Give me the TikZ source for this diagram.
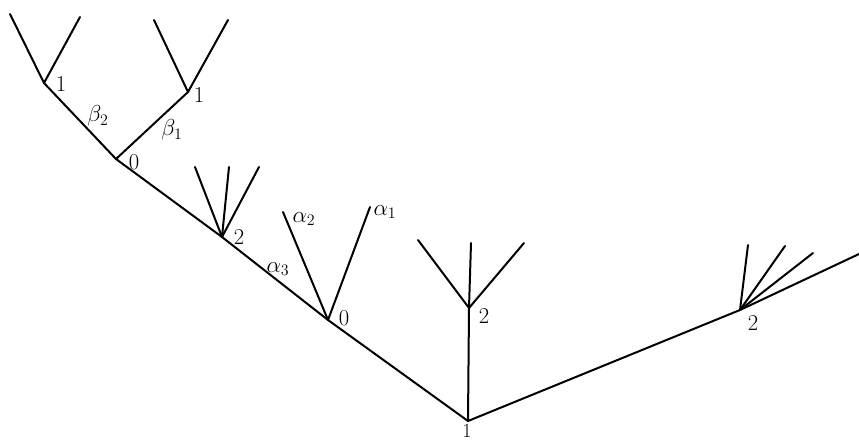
\documentclass[tikz,border=0pt]{standalone}
\begin{document}
\begin{tikzpicture}[x=0.75pt,y=-0.75pt,
  edge/.style={line width=1.5pt, line cap=round},
  lbl/.style={inner sep=0pt, font=\fontsize{17}{19}\selectfont},
  glbl/.style={inner sep=0pt, font=\fontsize{17}{19}\selectfont}]
\useasboundingbox (0,0) rectangle (859,443);
% vertices
\coordinate (r) at (468,421);
\coordinate (m2) at (469,308);
\coordinate (a0) at (328,320);
\coordinate (b2) at (222,237);
\coordinate (c0) at (116,159);
\coordinate (d1) at (44,83);
\coordinate (e1) at (188,92);
\coordinate (f2) at (740,310);
% leaves
\coordinate (m2a) at (418,240);
\coordinate (m2b) at (471,243);
\coordinate (m2c) at (524,243);
\coordinate (a0a) at (283,212);
\coordinate (a0b) at (370,207);
\coordinate (b2a) at (195,167);
\coordinate (b2b) at (229,167);
\coordinate (b2c) at (259,167);
\coordinate (d1a) at (10,14);
\coordinate (d1b) at (80,17);
\coordinate (e1a) at (154,20);
\coordinate (e1b) at (228,20);
\coordinate (f2a) at (748,245);
\coordinate (f2b) at (785,246);
\coordinate (f2c) at (813,253);
\coordinate (f2d) at (859,254);
% edges
\draw[edge] (r) -- (a0) -- (b2) -- (c0) -- (d1);
\draw[edge] (c0) -- (e1);
\draw[edge] (r) -- (m2);
\draw[edge] (r) -- (f2);
\draw[edge] (m2) -- (m2a); \draw[edge] (m2) -- (m2b); \draw[edge] (m2) -- (m2c);
\draw[edge] (a0) -- (a0a); \draw[edge] (a0) -- (a0b);
\draw[edge] (b2) -- (b2a); \draw[edge] (b2) -- (b2b); \draw[edge] (b2) -- (b2c);
\draw[edge] (d1) -- (d1a); \draw[edge] (d1) -- (d1b);
\draw[edge] (e1) -- (e1a); \draw[edge] (e1) -- (e1b);
\draw[edge] (f2) -- (f2a); \draw[edge] (f2) -- (f2b); \draw[edge] (f2) -- (f2c); \draw[edge] (f2) -- (f2d);
% labels
\node[lbl, anchor=north, font=\fontsize{15}{17}\selectfont] (lr) at (467,424) {1};
\node[lbl] (lm2) at (484,316) {2};
\node[lbl] (la0) at (344,318) {0};
\node[lbl] (lb2) at (239,237) {2};
\node[lbl] (lc0) at (134,162) {0};
\node[lbl] (ld1) at (61,84) {1};
\node[lbl] (le1) at (199,95) {1};
\node[lbl] (lf2) at (753,323) {2};
\node[glbl] (la1) at (385,212) {$\alpha_1$};
\node[glbl] (la2) at (304,219) {$\alpha_2$};
\node[glbl] (la3) at (278,269) {$\alpha_3$};
\node[glbl] (lb1) at (172,130) {$\beta_1$};
\node[glbl] (lbb2) at (98,116) {$\beta_2$};
\end{tikzpicture}
\end{document}
